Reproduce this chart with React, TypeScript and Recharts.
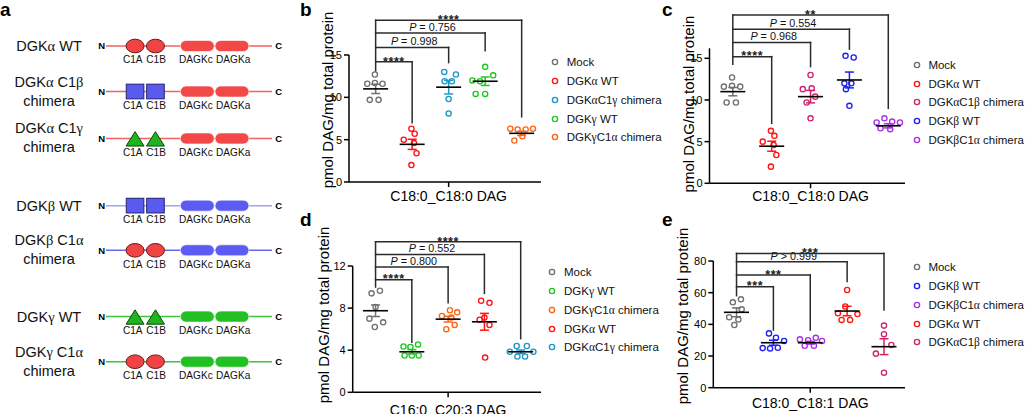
import React from 'react';
import { ScatterChart, Scatter, XAxis, YAxis, ErrorBar, ReferenceLine, Legend, Label } from 'recharts';

const FONT = '"Liberation Sans", Arial, Helvetica, sans-serif';
const SERIF = '"Liberation Serif", "DejaVu Serif", "Times New Roman", serif';
const GREEK_RE = /([αβγ])/;

/* ---------------- Panel a data ---------------- */
const aRows = ['DGKα WT', 'DGKα C1β chimera', 'DGKα C1γ chimera', 'DGKβ WT', 'DGKβ C1α chimera', 'DGKγ WT', 'DGKγ C1α chimera'];
const aRowPos = [0, 1.01, 2.05, 3.54, 4.53, 6, 7];
const aBackbone = ['α', 'α', 'α', 'β', 'β', 'γ', 'γ'];
const aC1Family = ['α', 'β', 'γ', 'β', 'α', 'γ', 'α'];
const aDomainNames = ['C1A', 'C1B', 'DAGKc', 'DAGKa'];
const aDomainPos = [17.5, 29.8, 55, 75.9];
const aEnds = ['N', 'C'];
const aEndPos = [0, 100];

/* ---------------- Panel b data ---------------- */
const bGroups = ['Mock', 'DGKα WT', 'DGKαC1γ chimera', 'DGKγ WT', 'DGKγC1α chimera'];
const bValues = [
  [12.7, 11.6, 11.7, 11.6, 9.7, 9.7],
  [6.3, 5.7, 5.0, 4.6, 3.4, 2.0],
  [13.0, 12.7, 11.9, 11.9, 9.8, 8.1],
  [13.6, 12.6, 12.0, 11.9, 10.4, 10.4],
  [6.3, 6.2, 6.2, 6.3, 5.4, 4.9],
];
const bJitter = [
  [-0.02, -0.23, -0.02, 0.19, -0.16, 0.08],
  [-0.02, 0.07, -0.23, 0.05, 0.12, -0.02],
  [-0.12, 0.2, -0.11, 0.09, 0, 0],
  [0, 0.22, -0.35, -0.14, -0.26, 0],
  [-0.31, -0.11, 0.11, 0.31, 0.02, -0.2],
];
const bMeans = [11.0, 4.45, 11.2, 11.9, 5.75];
const bSems = [0.55, 0.6, 0.8, 0.5, 0.25];
const bBrackets = [
  { to: 1, top: 14.2, leg: 7.0, text: '****' },
  { to: 2, top: 15.9, leg: 14.1, text: 'P = 0.998' },
  { to: 3, top: 17.6, leg: 15.5, text: 'P = 0.756' },
  { to: 4, top: 19.1, leg: 7.7, text: '****' },
];
const bMockLeg = 13.1;

/* ---------------- Panel c data ---------------- */
const cGroups = ['Mock', 'DGKα WT', 'DGKαC1β chimera', 'DGKβ WT', 'DGKβC1α chimera'];
const cValues = [
  [12.7, 11.6, 11.7, 11.6, 9.7, 9.7],
  [6.3, 5.7, 5.0, 4.6, 3.4, 2.0],
  [13.0, 11.3, 11.4, 10.4, 9.7, 7.8],
  [15.3, 15.1, 12.0, 12.0, 11.3, 9.3],
  [7.8, 7.4, 7.3, 7.3, 6.6, 6.5],
];
const cJitter = [
  [-0.02, -0.23, -0.02, 0.19, -0.16, 0.08],
  [-0.02, 0.07, -0.23, 0.05, 0.12, -0.02],
  [0, -0.2, 0.03, 0.12, -0.1, 0],
  [-0.1, 0.11, -0.13, 0.05, -0.09, 0],
  [-0.1, 0.1, -0.3, 0.3, -0.2, 0.05],
];
const cMeans = [11.0, 4.45, 10.4, 12.4, 6.9];
const cSems = [0.5, 0.6, 0.75, 0.95, 0.25];
const cBrackets = [
  { to: 1, top: 15.2, leg: 7.2, text: '****' },
  { to: 2, top: 16.9, leg: 14.0, text: 'P = 0.968' },
  { to: 3, top: 18.5, leg: 16.1, text: 'P = 0.554' },
  { to: 4, top: 20.2, leg: 9.0, text: '**' },
];
const cMockLeg = 14.3;

/* ---------------- Panel d data ---------------- */
const dGroups = ['Mock', 'DGKγ WT', 'DGKγC1α chimera', 'DGKα WT', 'DGKαC1γ chimera'];
const dValues = [
  [9.65, 9.4, 8.1, 7.0, 6.65, 6.2],
  [4.35, 4.3, 4.55, 3.5, 3.5, 3.5],
  [7.8, 7.6, 7.25, 7.1, 6.4, 6.0],
  [8.7, 8.5, 7.1, 6.9, 6.4, 3.3],
  [4.4, 4.4, 3.85, 3.85, 3.4, 3.4],
];
const dJitter = [
  [0.12, -0.11, 0, -0.17, 0.21, -0.02],
  [-0.23, -0.04, 0.17, -0.2, 0, 0.19],
  [0.05, 0.25, -0.17, 0.09, 0.18, -0.05],
  [-0.09, 0.14, 0, -0.13, 0.14, 0.02],
  [-0.11, 0.17, -0.3, 0.35, -0.09, 0.12],
];
const dMeans = [7.75, 3.85, 6.95, 6.7, 3.85];
const dSems = [0.55, 0.2, 0.27, 0.8, 0.17];
const dBrackets = [
  { to: 1, top: 10.7, leg: 4.75, text: '****' },
  { to: 2, top: 11.9, leg: 8.5, text: 'P = 0.800' },
  { to: 3, top: 13.1, leg: 9.4, text: 'P = 0.552' },
  { to: 4, top: 14.3, leg: 5.1, text: '****' },
];
const dMockLeg = 10.0;

/* ---------------- Panel e data ---------------- */
const eGroups = ['Mock', 'DGKβ WT', 'DGKβC1α chimera', 'DGKα WT', 'DGKαC1β chimera'];
const eValues = [
  [55.8, 53.9, 49.5, 44.5, 43.0, 39.6],
  [34.3, 31.6, 29.5, 25.0, 24.8, 25.2],
  [30.5, 30.0, 31.5, 29.5, 26.5, 26.5],
  [61.7, 51.3, 47.0, 46.5, 42.8, 42.8],
  [39.2, 33.8, 27.0, 21.5, 9.5],
];
const eJitter = [
  [0.12, -0.1, 0.14, -0.2, 0.05, -0.06],
  [-0.12, 0.07, 0.29, -0.29, -0.09, 0.12],
  [-0.28, -0.06, 0.15, 0.32, -0.15, 0.1],
  [0, -0.05, -0.25, 0.28, -0.15, 0.08],
  [0, 0, 0.2, -0.22, 0],
];
const eMeans = [47.6, 28.4, 28.4, 48.4, 25.9];
const eSems = [2.8, 1.6, 0.9, 3.0, 5.0];
const eBrackets = [
  { to: 1, top: 63.8, leg: 36.4, text: '***' },
  { to: 2, top: 71.2, leg: 36.4, text: '***' },
  { to: 3, top: 79.6, leg: 67.0, text: 'P > 0.999' },
  { to: 4, top: 84.8, leg: 49.0, text: '***' },
];
const eMockLeg = 58.1;

const Y_TITLE = 'pmol DAG/mg total protein';

/* ---------------- styles ---------------- */
const GROUP_COLORS: Record<string, string> = {
  'Mock': '#707070',
  'DGKα WT': '#ff1414',
  'DGKαC1γ chimera': '#1e96c8',
  'DGKγ WT': '#1ec81e',
  'DGKγC1α chimera': '#ff6414',
  'DGKαC1β chimera': '#d0246e',
  'DGKβ WT': '#1f1ff5',
  'DGKβC1α chimera': '#a832e6',
};
const FAM: Record<string, { c1: string; c1Stroke: string; cat: string }> = {
  'α': { c1: '#f04444', c1Stroke: '#6e1414', cat: '#f24848' },
  'β': { c1: '#5a5af0', c1Stroke: '#23236e', cat: '#5c5cf2' },
  'γ': { c1: '#1db41d', c1Stroke: '#0a4a0a', cat: '#22c022' },
};
const ROW_LINE_COLORS = ['#f26262', '#f26262', '#f26262', '#a4a4f2', '#6868ee', '#3cc43c', '#3cc43c'];
const DOMAIN_LABEL_DX = [-2.3, 0.6, -1.4, 1.2];
const C1_SHAPE: Record<string, string> = { 'α': 'ellipse', 'β': 'square', 'γ': 'triangle' };
const AXIS = { stroke: '#000', strokeWidth: 1.5 };
const BRACKET = '#2b2b2b';

function svgRich(s: string) {
  return s.split(GREEK_RE).filter((t) => t !== '').map((part, i) =>
    GREEK_RE.test(part)
      ? <tspan key={i} fontFamily={SERIF}>{part}</tspan>
      : <tspan key={i}>{part}</tspan>);
}
function htmlRich(s: string) {
  return s.split(GREEK_RE).filter((t) => t !== '').map((part, i) =>
    GREEK_RE.test(part)
      ? <span key={i} style={{ fontFamily: SERIF }}>{part}</span>
      : <span key={i}>{part}</span>);
}

/* ---------------- Panel a ---------------- */
const aBackboneData = aRows.map((_, r) => aEnds.map((end, k) => ({ x: aEndPos[k], y: aRowPos[r], end })));
const aDomainData = aRows.flatMap((_, r) =>
  aDomainNames.map((name, d) => {
    const fam = d < 2 ? aC1Family[r] : aBackbone[r];
    return { x: aDomainPos[d], y: aRowPos[r], name, idx: d, fam, kind: d < 2 ? C1_SHAPE[fam] : 'pill' };
  }));

const EndShape = (p: any) => {
  const isN = p.payload.end === 'N';
  return (
    <text x={isN ? p.cx - 1 : p.cx + 3.2} y={p.cy + 3.4} textAnchor={isN ? 'end' : 'start'}
      fontSize={9.5} fontWeight="bold" fontFamily={FONT} fill="#000">{p.payload.end}</text>
  );
};

const DomainShape = (p: any) => {
  const { cx, cy, payload } = p;
  const f = FAM[payload.fam];
  let shape: React.ReactNode = null;
  if (payload.kind === 'ellipse') {
    shape = <ellipse cx={cx} cy={cy} rx={9} ry={6.8} fill={f.c1} stroke={f.c1Stroke} strokeWidth={1} />;
  } else if (payload.kind === 'square') {
    shape = <rect x={cx - 8.8} y={cy - 7.4} width={17.6} height={14.7} fill={f.c1} stroke={f.c1Stroke} strokeWidth={1} />;
  } else if (payload.kind === 'triangle') {
    shape = <polygon points={`${cx},${cy - 6.8} ${cx + 9},${cy + 7.6} ${cx - 9},${cy + 7.6}`} fill={f.c1} stroke={f.c1Stroke} strokeWidth={1} />;
  } else {
    shape = <rect x={cx - 16.9} y={cy - 5.5} width={33.8} height={11} rx={5.5} ry={5.5} fill={f.cat} stroke="#ffffff" strokeWidth={0.6} />;
  }
  return (
    <g>
      {shape}
      <text x={cx + DOMAIN_LABEL_DX[payload.idx]} y={cy + 17.3} textAnchor="middle" fontSize={10.1} fontFamily={FONT} fill="#111">{payload.name}</text>
    </g>
  );
};

const RowTick = (p: any) => {
  const idx = aRowPos.findIndex((v) => Math.abs(v - p.payload.value) < 1e-6);
  if (idx < 0) return <g />;
  const label = aRows[idx];
  const common = { x: 49, textAnchor: 'middle' as const, fontSize: 14.5, fontFamily: FONT, fill: '#111' };
  if (label.endsWith(' chimera')) {
    return (
      <g>
        <text {...common} y={p.y - 5}>{svgRich(label.replace(' chimera', ''))}</text>
        <text {...common} y={p.y + 14}>chimera</text>
      </g>
    );
  }
  return <text {...common} y={p.y + 5}>{svgRich(label)}</text>;
};

function PanelA() {
  return (
    <div style={{ position: 'absolute', left: 0, top: 0 }}>
      <ScatterChart width={290} height={414} margin={{ top: 46, right: 18, bottom: 52.3, left: 6 }}>
        <XAxis type="number" dataKey="x" domain={[0, 100]} hide />
        <YAxis type="number" dataKey="y" domain={[0, 7]} reversed width={100} axisLine={false} tickLine={false}
          ticks={aRowPos} interval={0} tick={RowTick} />
        {aBackboneData.map((data, r) => (
          <Scatter key={`bb${r}`} name={`backbone${r}`} data={data} isAnimationActive={false} legendType="none"
            line={{ stroke: ROW_LINE_COLORS[r], strokeWidth: 1.5 }} shape={EndShape} />
        ))}
        <Scatter name="domains" data={aDomainData} isAnimationActive={false} legendType="none" shape={DomainShape} />
      </ScatterChart>
    </div>
  );
}

/* ---------------- Dot-plot panels ---------------- */
type Bracket = { to: number; top: number; leg: number; text: string };
type PanelCfg = {
  left: number; top: number; width: number; height: number;
  margin: { top: number; right: number; bottom: number; left: number };
  yAxisWidth: number; xAxisHeight: number; xTickMargin: number;
  xDomain: [number, number]; yDomain: [number, number]; yTicks: number[];
  xLabel: string; yLabelX: number; yLabelY: number;
  legendLeft: number; legendTop: number;
  groups: string[]; values: number[][]; jitter: number[][]; means: number[]; sems: number[];
  brackets: Bracket[]; mockLeg: number;
};

const MeanShape = (p: any) => (
  <line x1={p.cx - 12.5} x2={p.cx + 12.5} y1={p.cy} y2={p.cy} stroke="#000" strokeWidth={1.6} />
);
const makeDot = (color: string) => (p: any) => (
  <circle cx={p.cx} cy={p.cy} r={2.6} fill="none" stroke={color} strokeWidth={1.35} />
);

const bracketLabel = (text: string) => (p: any) => {
  const vb = p.viewBox || { x: 0, y: 0, width: 0 };
  const cx = vb.x + vb.width / 2;
  if (text.startsWith('P')) {
    return (
      <text x={cx + 2} y={vb.y - 2} textAnchor="middle" fontSize={10.8} fontFamily={FONT} fill="#111">
        <tspan fontStyle="italic">P</tspan>{text.slice(1)}
      </text>
    );
  }
  return (
    <text x={cx} y={vb.y + 3.8} textAnchor="middle" fontSize={12.5} fontWeight="bold" letterSpacing={0.6} fontFamily={FONT} fill="#222">{text}</text>
  );
};

const makeLegend = (names: string[]) => () => (
  <div style={{ fontFamily: FONT, fontSize: 11.5, color: '#111', whiteSpace: 'nowrap' }}>
    {names.map((name) => (
      <div key={name} style={{ height: 18.75, display: 'flex', alignItems: 'center' }}>
        <svg width={10} height={10} style={{ marginRight: 6.7, flex: 'none' }}>
          <circle cx={5} cy={5} r={2.6} fill="none" stroke={GROUP_COLORS[name]} strokeWidth={1.4} />
        </svg>
        <span>{htmlRich(name)}</span>
      </div>
    ))}
  </div>
);

function DotPanel({ cfg }: { cfg: PanelCfg }) {
  const topMost = Math.max(...cfg.brackets.map((b) => b.top));
  const yTitle = () => (
    <text x={cfg.yLabelX} y={cfg.yLabelY} transform={`rotate(-90 ${cfg.yLabelX} ${cfg.yLabelY})`}
      textAnchor="middle" dominantBaseline="central" fontSize={15} fontFamily={FONT} fill="#000">{Y_TITLE}</text>
  );
  return (
    <div style={{ position: 'absolute', left: cfg.left, top: cfg.top }}>
      <ScatterChart width={cfg.width} height={cfg.height} margin={cfg.margin}>
        <XAxis type="number" dataKey="x" domain={cfg.xDomain} ticks={[2]} interval={0}
          tickFormatter={() => cfg.xLabel} tickSize={5} tickMargin={cfg.xTickMargin} height={cfg.xAxisHeight}
          axisLine={AXIS} tickLine={AXIS} tick={{ fill: '#000', fontSize: 14, fontFamily: FONT }} />
        <YAxis type="number" dataKey="y" domain={cfg.yDomain} ticks={cfg.yTicks} interval={0} width={cfg.yAxisWidth}
          tickSize={5} tickMargin={2} axisLine={AXIS} tickLine={AXIS}
          tick={{ fill: '#000', fontSize: 11, fontFamily: FONT }}
          label={{ value: Y_TITLE, content: yTitle }} />
        <ReferenceLine segment={[{ x: 0, y: cfg.mockLeg }, { x: 0, y: topMost }]} ifOverflow="visible"
          stroke={BRACKET} strokeWidth={1.5} strokeLinecap="square" />
        {cfg.brackets.map((b, i) => (
          <React.Fragment key={`br${i}`}>
            <ReferenceLine segment={[{ x: 0, y: b.top }, { x: b.to, y: b.top }]} ifOverflow="visible"
              stroke={BRACKET} strokeWidth={1.5} strokeLinecap="square">
              <Label content={bracketLabel(b.text)} />
            </ReferenceLine>
            <ReferenceLine segment={[{ x: b.to, y: b.top }, { x: b.to, y: b.leg }]} ifOverflow="visible"
              stroke={BRACKET} strokeWidth={1.5} strokeLinecap="square" />
          </React.Fragment>
        ))}
        {cfg.groups.map((g, gi) => (
          <Scatter key={`pts${gi}`} name={g} isAnimationActive={false}
            data={cfg.values[gi].map((v, k) => ({ x: gi + cfg.jitter[gi][k], y: v }))}
            fill={GROUP_COLORS[g]} shape={makeDot(GROUP_COLORS[g])} />
        ))}
        {cfg.groups.map((g, gi) => (
          <Scatter key={`mean${gi}`} name={`${g} mean`} legendType="none" isAnimationActive={false}
            data={[{ x: gi, y: cfg.means[gi], sem: cfg.sems[gi] }]} shape={MeanShape}>
            <ErrorBar dataKey="sem" direction="y" width={4.5} stroke={GROUP_COLORS[g]} strokeWidth={1.5} />
          </Scatter>
        ))}
        <Legend layout="vertical" align="center" verticalAlign="middle" content={makeLegend(cfg.groups)}
          wrapperStyle={{ left: cfg.legendLeft, top: cfg.legendTop, width: 'auto' }} />
      </ScatterChart>
    </div>
  );
}

const panelB: PanelCfg = {
  left: 280, top: 0, width: 380, height: 210,
  margin: { top: 55, right: 119, bottom: 0, left: 29 }, yAxisWidth: 40, xAxisHeight: 28, xTickMargin: 3.7,
  xDomain: [-0.73, 4.53], yDomain: [0, 15], yTicks: [0, 5, 10, 15],
  xLabel: 'C18:0_C18:0 DAG', yLabelX: 47.3, yLabelY: 100, legendLeft: 270, legendTop: 53,
  groups: bGroups, values: bValues, jitter: bJitter, means: bMeans, sems: bSems, brackets: bBrackets, mockLeg: bMockLeg,
};
const panelC: PanelCfg = {
  left: 640, top: 0, width: 386, height: 210,
  margin: { top: 48.3, right: 121, bottom: 0, left: 29.5 }, yAxisWidth: 40, xAxisHeight: 26.7, xTickMargin: 2.7,
  xDomain: [-0.6, 4.43], yDomain: [0, 16.2], yTicks: [0, 5, 10, 15],
  xLabel: 'C18:0_C18:0 DAG', yLabelX: 48, yLabelY: 104, legendLeft: 271.7, legendTop: 55.6,
  groups: cGroups, values: cValues, jitter: cJitter, means: cMeans, sems: cSems, brackets: cBrackets, mockLeg: cMockLeg,
};
const panelD: PanelCfg = {
  left: 280, top: 210, width: 380, height: 204,
  margin: { top: 56, right: 119, bottom: 0, left: 32.7 }, yAxisWidth: 40, xAxisHeight: 21.7, xTickMargin: 7.7,
  xDomain: [-0.63, 4.56], yDomain: [0, 12], yTicks: [0, 4, 8, 12],
  xLabel: 'C16:0_C20:3 DAG', yLabelX: 43.3, yLabelY: 105, legendLeft: 267.3, legendTop: 53,
  groups: dGroups, values: dValues, jitter: dJitter, means: dMeans, sems: dSems, brackets: dBrackets, mockLeg: dMockLeg,
};
const panelE: PanelCfg = {
  left: 640, top: 210, width: 386, height: 204,
  margin: { top: 51, right: 121, bottom: 0, left: 33.3 }, yAxisWidth: 40, xAxisHeight: 26.3, xTickMargin: 5.6,
  xDomain: [-0.63, 4.57], yDomain: [0, 80], yTicks: [0, 20, 40, 60, 80],
  xLabel: 'C18:0_C18:1 DAG', yLabelX: 42.3, yLabelY: 106, legendLeft: 271.7, legendTop: 48.1,
  groups: eGroups, values: eValues, jitter: eJitter, means: eMeans, sems: eSems, brackets: eBrackets, mockLeg: eMockLeg,
};

const PANEL_LETTERS = [
  { t: 'a', x: 0, y: 16 },
  { t: 'b', x: 300, y: 16 },
  { t: 'c', x: 662, y: 16 },
  { t: 'd', x: 300, y: 226 },
  { t: 'e', x: 662, y: 226 },
];

export default function App() {
  return (
    <div style={{ position: 'absolute', left: 0, top: 0, width: 1026, height: 414, background: '#fff', overflow: 'hidden' }}>
      <PanelA />
      <DotPanel cfg={panelB} />
      <DotPanel cfg={panelC} />
      <DotPanel cfg={panelD} />
      <DotPanel cfg={panelE} />
      <svg width={1026} height={414} style={{ position: 'absolute', left: 0, top: 0, pointerEvents: 'none' }}>
        {PANEL_LETTERS.map((l) => (
          <text key={l.t} x={l.x} y={l.y} fontSize={19} fontWeight="bold" fontFamily={FONT} fill="#000">{l.t}</text>
        ))}
      </svg>
    </div>
  );
}
